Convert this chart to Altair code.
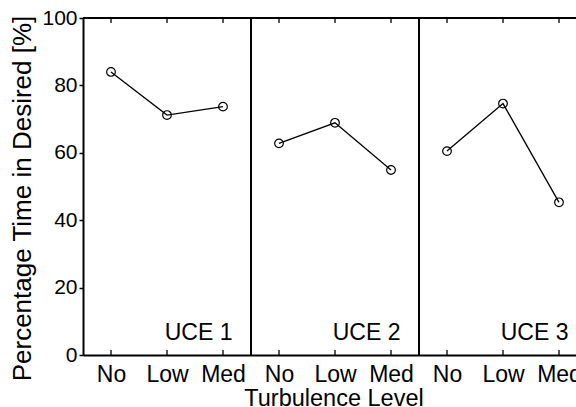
import altair as alt
import pandas as pd

panels = ["UCE 1", "UCE 2", "UCE 3"]
levels = ["No", "Low", "Med"]
uce1 = [84.0, 71.2, 73.7]
uce2 = [62.8, 68.9, 54.9]
uce3 = [60.5, 74.6, 45.3]
series = [uce1, uce2, uce3]
y_ticks = [0, 20, 40, 60, 80, 100]

rows = []
for p, (name, vals) in enumerate(zip(panels, series)):
    for l, (lev, v) in enumerate(zip(levels, vals)):
        rows.append({"panel": name, "p": p, "level": lev, "l": l, "value": v})
df = pd.DataFrame(rows)

panel_df = pd.DataFrame({"panel": panels, "p": list(range(len(panels)))})
tick_df = df[["p", "l"]].copy()

PX_PER_UNIT = 28.0
W = 493
H = 337
x_scale = alt.Scale(domain=[0, W / PX_PER_UNIT], nice=False, zero=False)
y_scale = alt.Scale(domain=[0, 100], nice=False)

x_axis = alt.Axis(
    values=[1, 3, 5, 7, 9, 11, 13, 15, 17],
    labelExpr="['No','Low','Med'][((datum.value-1)/2)%3]",
    grid=False, ticks=False, tickSize=0,
    domain=True, domainColor="black", domainWidth=2,
    labelFontSize=23, labelColor="black", labelPadding=8,
    labelFont="Liberation Sans", labelFlush=False, labelOverlap=False,
    title="Turbulence Level", titleFontSize=23.5, titleFontWeight="normal",
    titleColor="black", titleFont="Liberation Sans",
    titleX=250.5, titleY=50, titleBaseline="alphabetic", titleAlign="center",
)
y_axis = alt.Axis(
    values=y_ticks, grid=False,
    domain=True, domainColor="black", domainWidth=2,
    ticks=True, tickSize=4, tickWidth=1.5, tickColor="black",
    labelFontSize=21, labelColor="black", labelPadding=2,
    labelFont="Liberation Sans",
    title="Percentage Time in Desired [%]", titleFontSize=26,
    titleFontWeight="normal", titleColor="black", titleFont="Liberation Sans",
    titleX=-53, titleY=180, titleBaseline="alphabetic", titleAlign="center",
    titleAngle=270,
)

base = alt.Chart(df).transform_calculate(x="datum.p*6 + datum.l*2 + 1")

lines = base.mark_line(color="black", strokeWidth=1.3).encode(
    x=alt.X("x:Q", scale=x_scale, axis=x_axis),
    y=alt.Y("value:Q", scale=y_scale, axis=y_axis),
    detail="panel:N",
)
points = base.mark_point(shape="circle", filled=False, color="black",
                         size=75, strokeWidth=1.2, opacity=1).encode(
    x=alt.X("x:Q", scale=x_scale),
    y=alt.Y("value:Q", scale=y_scale),
)

ticks_bottom = alt.Chart(tick_df).transform_calculate(
    x="datum.p*6 + datum.l*2 + 1"
).mark_rule(color="black", strokeWidth=1.3).encode(
    x=alt.X("x:Q", scale=x_scale),
    y=alt.Y(datum=0, scale=y_scale),
    y2=alt.Y2(datum=1.5),
)
ticks_top = alt.Chart(tick_df).transform_calculate(
    x="datum.p*6 + datum.l*2 + 1"
).mark_rule(color="black", strokeWidth=1.3).encode(
    x=alt.X("x:Q", scale=x_scale),
    y=alt.Y(datum=100, scale=y_scale),
    y2=alt.Y2(datum=98.5),
)

seps = alt.Chart(panel_df).transform_filter("datum.p > 0").transform_calculate(
    x="datum.p*6"
).mark_rule(color="black", strokeWidth=2).encode(
    x=alt.X("x:Q", scale=x_scale),
    y=alt.Y(datum=0, scale=y_scale),
    y2=alt.Y2(datum=100),
)

top_border = alt.Chart(panel_df).transform_filter("datum.p == 0").mark_rule(
    color="black", strokeWidth=2
).encode(y=alt.Y(datum=100, scale=y_scale))

labels = alt.Chart(panel_df).transform_calculate(
    x="datum.p*6 + 2.92"
).mark_text(align="left", baseline="alphabetic", fontSize=23,
           font="Liberation Sans", color="black").encode(
    x=alt.X("x:Q", scale=x_scale),
    y=alt.Y(datum=4.5, scale=y_scale),
    text="panel:N",
)

chart = alt.layer(
    seps, top_border, ticks_bottom, ticks_top, lines, points, labels
).properties(
    width=W, height=H,
    padding={"left": 83, "top": 18, "right": 0, "bottom": 52},
    autosize=alt.AutoSizeParams(type="none"),
).configure_view(stroke=None).configure(background="white")

chart.save("out.html", embed_options={"renderer": "svg", "actions": False})
